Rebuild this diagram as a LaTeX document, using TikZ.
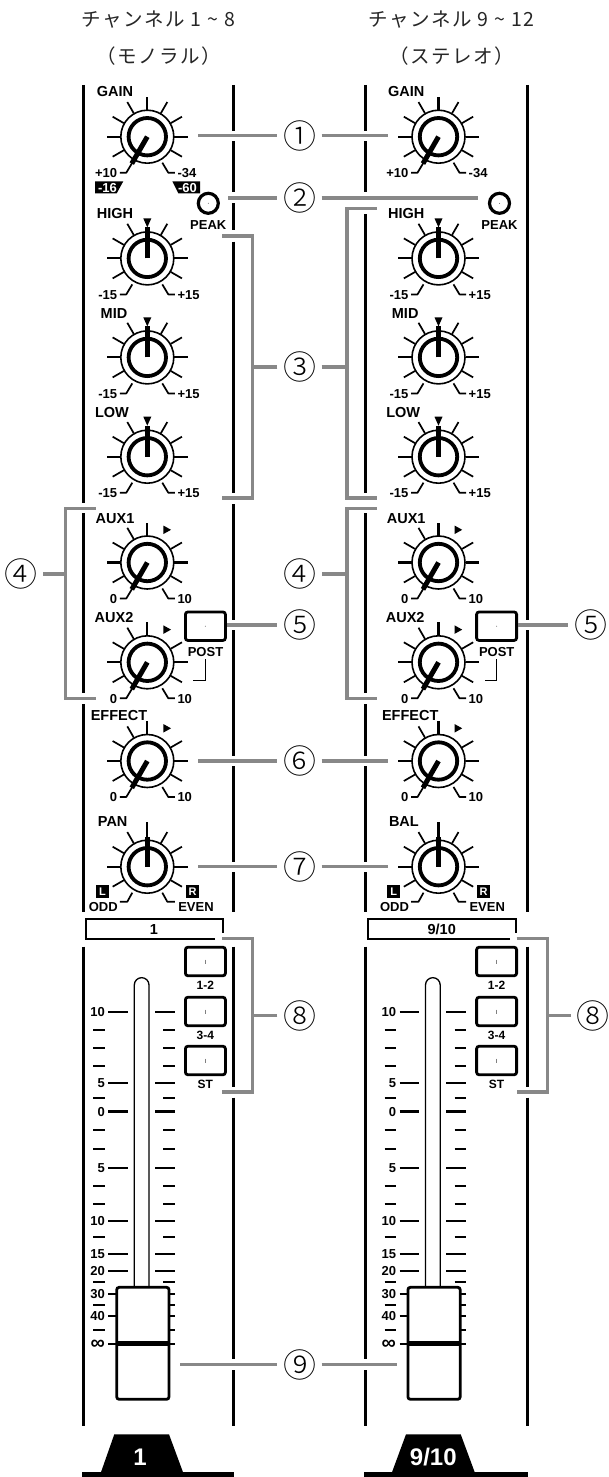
\documentclass[tikz,border=0pt]{standalone}
\usepackage{fontspec}
\setmainfont{Liberation Sans}
\newfontfamily\jp{Noto Sans CJK JP}[LetterSpace=8]
\newfontfamily\cn{Noto Sans CJK JP Light}
\definecolor{lead}{HTML}{888888}
\tikzset{
  rail/.style={line width=2.8pt,black},
  leader/.style={line width=3.4pt,lead},
  bracketln/.style={line width=3.4pt,lead,line join=miter},
  ray/.style={line width=1.7pt},
  mainray/.style={line width=2.1pt},
  hookln/.style={line width=1.7pt,line join=round},
  ptr/.style={line width=5pt},
  lab/.style={inner sep=0pt,font=\bfseries\fontsize{13}{13}\selectfont,text height=9.4pt,text depth=0pt},
  bigl/.style={inner sep=0pt,font=\bfseries\fontsize{14.5}{14.5}\selectfont,text height=10.4pt,text depth=0pt},
  smalll/.style={inner sep=0pt,font=\bfseries\fontsize{12}{12}\selectfont,text height=8.6pt,text depth=0pt},
  head/.style={inner sep=0pt,font=\jp\fontsize{19.5}{19.5}\selectfont,text=black!85},
  circn/.style={minimum size=44pt,inner sep=0pt,font=\cn\fontsize{33}{33}\selectfont},
  btn/.style={draw,line width=2.8pt,rounded corners=2.5pt,fill=white},
  btnmark/.style={line width=.9pt,black!50},
  ftick/.style={line width=1.7pt},
}
\def\raylist{30,150,210,240,300,330}
% knob: prefix, x, y, pointer angle, left text, right text
\newcommand{\knob}[6]{%
  \begin{scope}[shift={(#2,#3)}]
    \foreach \a in \raylist {\draw[ray] (\a:27) -- (\a:40);}
    \foreach \a in {0,180}{\draw[mainray] (\a:27) -- (\a:40.5);}
    \draw[hookln] (60:30) -- (21,36) -- (27.5,36);
    \draw[hookln] (120:30) -- (-21,36) -- (-27.5,36);
    \draw[line width=1.6pt,fill=white] (0,0) circle (26.5);
    \draw[line width=3.8pt,fill=white] (0,0) circle (18.7);
    \draw[ptr] (0,0) -- (#4:31);
    \node[lab,anchor=east] (#1-l) at (-30,36) {#5};
    \node[lab,anchor=west] (#1-r) at (30,36) {#6};
  \end{scope}}
\newcommand{\knobtick}[3]{\draw[mainray] (#1,#2-27) -- (#1,#2-#3);}
\newcommand{\knobeq}[2]{\fill (#1-4,#2-40) -- (#1+4,#2-40) -- (#1,#2-31) -- cycle;}
\newcommand{\knobaux}[2]{\knobtick{#1}{#2}{40}\fill (#1+16,#2-37) -- (#1+23.7,#2-32.7) -- (#1+16,#2-28.4) -- cycle;}
\newcommand{\fbtn}[3]{% prefix, y top, text
  \node[btn,minimum width=40pt,minimum height=28.5pt,inner sep=0pt] (#1) at (205.4,#2+15.3) {};
  \draw[btnmark] (205.4,#2+13.5) -- (205.4,#2+17.5);
  \node[smalll] (#1-t) at (205.4,#2+39) {#3};}
% channel strip drawn at left-channel coordinates
\newcommand{\chan}[2]{% prefix, pan name
  \knob{#1g}{147.3}{136.7}{120}{+10}{-34}\knobtick{147.3}{136.7}{40}
  \node[bigl] (#1g-t) at (115,91.7) {GAIN};
  \draw[line width=3.2pt,fill=white] (208.3,203.3) circle (10);
  \fill[black!60] (208.3,203.3) circle (.5);
  \node[lab] (#1peak) at (208.3,225) {PEAK};
  \knob{#1h}{147.3}{258.4}{270}{-15}{+15}\knobeq{147.3}{258.4}
  \node[bigl] (#1h-t) at (115,213.3) {HIGH};
  \knob{#1m}{147.3}{357.4}{270}{-15}{+15}\knobeq{147.3}{357.4}
  \node[bigl] (#1m-t) at (114,313) {MID};
  \knob{#1o}{147.3}{456.7}{270}{-15}{+15}\knobeq{147.3}{456.7}
  \node[bigl] (#1o-t) at (112,412) {LOW};
  \def\raylist{30,150,210,240,330}
  \knob{#1a}{147.3}{562.5}{120}{0}{10}\knobaux{147.3}{562.5}
  \node[bigl] (#1a-t) at (115,518.3) {AUX1};
  \knob{#1b}{147.3}{662.3}{120}{0}{10}\knobaux{147.3}{662.3}
  \node[bigl] (#1b-t) at (114,617.3) {AUX2};
  \node[btn,minimum width=40pt,minimum height=28.5pt,inner sep=0pt] (#1post) at (205.4,626.2) {};
  \fill[black!60] (205.4,626.2) circle (.5);
  \node[lab] (#1post-t) at (205.5,651.7) {POST};
  \coordinate (#1pa) at (205.7,659);
  \coordinate (#1pb) at (193.3,680);
  \draw[line width=1pt] (#1pa) |- (#1pb);
  \knob{#1e}{147.3}{761}{120}{0}{10}\knobaux{147.3}{761}
  \node[bigl] (#1e-t) at (119,715) {EFFECT};
  \def\raylist{30,150,210,240,300,330}
  \begin{scope}[shift={(147.3,866.7)}]
    \foreach \a in \raylist {\draw[ray] (\a:27) -- (\a:40);}
    \foreach \a in {0,180}{\draw[mainray] (\a:27) -- (\a:40.5);}
    \draw[hookln] (60:30) -- (20,35) -- (27.5,35);
    \draw[hookln] (120:30) -- (-20,35) -- (-27.5,35);
    \draw[mainray] (0,-27) -- (0,-44.3);
    \draw[line width=1.6pt,fill=white] (0,0) circle (26.5);
    \draw[line width=3.8pt,fill=white] (0,0) circle (18.7);
    \draw[ptr] (0,0) -- (0,-30);
  \end{scope}
  \node[bigl] (#1p-t) at (112.7,821.7) {#2};
  \node[fill=black,text=white,minimum size=13pt,inner sep=0pt,font=\bfseries\fontsize{11}{11}\selectfont] (#1ll) at (102.5,891.8) {L};
  \node[fill=black,text=white,minimum size=13pt,inner sep=0pt,font=\bfseries\fontsize{11}{11}\selectfont] (#1rr) at (192.5,891.8) {R};
  \node[lab] (#1odd) at (103.3,906.7) {ODD};
  \node[lab] (#1even) at (196,906.7) {EVEN};
  % fader
  \fbtn{#1b1}{946.2}{1-2}
  \fbtn{#1b2}{996.2}{3-4}
  \fbtn{#1b3}{1045.2}{ST}
  \foreach \yy in {1011.7,1082.7,1167.7,1220.7,1253.7,1270.7,1294,1315.7,1343.7}{
    \draw[ftick] (108.3,\yy) -- (127.7,\yy) (155,\yy) -- (175,\yy);
  }
  \foreach \yy in {1030,1047.7,1065.7,1097.7,1130,1149,1186,1204,1237,1282,1304.7,1330}{
    \draw[ftick] (93.3,\yy) -- (105,\yy) (163.3,\yy) -- (175,\yy);
  }
  \draw[line width=3pt] (108.3,1111.3) -- (127.7,1111.3) (155,1111.3) -- (175,1111.3);
  \node[lab,anchor=east] (#1f0) at (105,1111.3) {0};
  \node[lab,anchor=east] (#1f1) at (105,1011.7) {10};
  \node[lab,anchor=east] (#1f2) at (105,1082.7) {5};
  \node[lab,anchor=east] (#1f3) at (105,1167.7) {5};
  \node[lab,anchor=east] (#1f4) at (105,1220.7) {10};
  \node[lab,anchor=east] (#1f5) at (105,1253.7) {15};
  \node[lab,anchor=east] (#1f6) at (105,1270.7) {20};
  \node[lab,anchor=east] (#1f7) at (105,1294) {30};
  \node[lab,anchor=east] (#1f8) at (105,1315.7) {40};
  \node[lab,anchor=east,font=\bfseries\fontsize{20}{20}\selectfont] (#1f9) at (105,1344.7) {∞};
  \draw[line width=1.3pt] (134.3,1290) -- (134.3,985) arc[start angle=180,end angle=360,x radius=7.35,y radius=7.35] -- (149,1290);
  \draw[line width=2.8pt,fill=white,rounded corners=2.5pt] (116.7,1287.3) rectangle (169,1399.3);
  \draw[line width=4.5pt] (116.7,1343.7) -- (169,1343.7);
}
\begin{document}
\begin{tikzpicture}[x=1pt,y=-1pt]
\useasboundingbox[fill=white] (0,0) rectangle (608,1477);
% headers
\node[head] (h1) at (158.3,20) {チャンネル 1 \textasciitilde{} 8};
\node[head] (h2) at (159,56) {（モノラル）};
\node[head] (h3) at (451.7,20) {チャンネル 9 \textasciitilde{} 12};
\node[head] (h4) at (451.5,56) {（ステレオ）};
% rails
\draw[rail] (83.3,85)--(83.3,502.7) (83.3,513.3)--(83.3,693.3) (83.3,704)--(83.3,911.7) (83.3,946.7)--(83.3,1425.7);
\draw[rail] (233.3,85)--(233.3,131) (233.3,141.3)--(233.3,192.3) (233.3,203.3)--(233.3,230) (233.3,241.7)--(233.3,492.7) (233.3,504)--(233.3,620) (233.3,630)--(233.3,756) (233.3,766)--(233.3,861.7) (233.3,872)--(233.3,911.7) (233.3,946.7)--(233.3,1087) (233.3,1097.7)--(233.3,1359.3) (233.3,1370)--(233.3,1425.7);
\draw[rail] (365.5,85)--(365.5,131) (365.5,141.3)--(365.5,192.3) (365.5,214)--(365.5,492.7) (365.5,513)--(365.5,693.3) (365.5,704)--(365.5,756) (365.5,766)--(365.5,861.7) (365.5,872)--(365.5,911.7) (365.5,946.7)--(365.5,1359.3) (365.5,1370)--(365.5,1425.7);
\draw[rail] (527.3,85)--(527.3,620) (527.3,630)--(527.3,911.7) (527.3,946.7)--(527.3,1087) (527.3,1097.7)--(527.3,1425.7);
% channels
\chan{A}{PAN}
\begin{scope}[shift={(291.2,0)}]
\chan{B}{BAL}
\end{scope}
% gain range tags, left channel only
\fill (95,181.3) -- (123.3,181.3) -- (116.7,193.3) -- (95,193.3) -- cycle;
\fill (172.3,181.3) -- (200,181.3) -- (200,193.3) -- (178.3,193.3) -- cycle;
\node[lab,text=white] (t16) at (107.5,187.3) {-16};
\node[lab,text=white] (t60) at (187.5,187.3) {-60};
% label strips
\draw[line width=2pt] (215,939.3) -- (86,939.3) -- (86,919.3) -- (223,919.3) -- (223,932.7);
\node[bigl] (s1) at (154,929.5) {1};
\draw[line width=2pt] (510,939.3) -- (368,939.3) -- (368,919.3) -- (515.7,919.3) -- (515.7,932.7);
\node[bigl] (s2) at (441.7,929.5) {9/10};
% faceplates at the foot
\draw[line width=4.7pt] (82.3,1474.6) -- (234.3,1474.6);
\fill (114.3,1434.3) -- (169,1434.3) -- (183.3,1473) -- (100.7,1473) -- cycle;
\node[bigl,text=white,font=\bfseries\fontsize{24}{24}\selectfont,text height=17pt] (f1) at (140,1456.7) {1};
\draw[line width=4.7pt] (364.3,1474.6) -- (528.3,1474.6);
\fill (406,1434.3) -- (460.7,1434.3) -- (475,1473) -- (391.7,1473) -- cycle;
\node[bigl,text=white,font=\bfseries\fontsize{24}{24}\selectfont,text height=17pt] (f2) at (433.3,1456.7) {9/10};
% numbers
\node[circn] (c1) at (299.5,135.7) {①};
\node[circn] (c2) at (299.5,198) {②};
\node[circn] (c3) at (299.5,367) {③};
\node[circn] (c4) at (21,574) {④};
\node[circn] (c4b) at (300,574) {④};
\node[circn] (c5) at (299.5,625) {⑤};
\node[circn] (c5b) at (590.5,625) {⑤};
\node[circn] (c6) at (299.5,761) {⑥};
\node[circn] (c7) at (299.5,866.7) {⑦};
\node[circn] (c8) at (299.5,1015.7) {⑧};
\node[circn] (c8b) at (593,1015.7) {⑧};
\node[circn] (c9) at (299.5,1364.7) {⑨};
% leader ends
\coordinate (e1a) at (198,135.7);\coordinate (e1b) at (387.5,135.7);
\coordinate (e2a) at (228,198);\coordinate (e2b) at (478,198);
\coordinate (e6a) at (198,761);\coordinate (e6b) at (387.5,761);
\coordinate (e7a) at (198,866.7);\coordinate (e7b) at (387.5,866.7);
\coordinate (e9a) at (180,1364.7);\coordinate (e9b) at (396.7,1364.7);
\draw[leader] (e1a) -- (c1.west) (c1.east) -- (e1b);
\draw[leader] (e2a) -- (c2.west) (c2.east) -- (e2b);
\draw[leader] (e6a) -- (c6.west) (c6.east) -- (e6b);
\draw[leader] (e7a) -- (c7.west) (c7.east) -- (e7b);
\draw[leader] (e9a) -- (c9.west) (c9.east) -- (e9b);
% leader 5
\draw[leader] (c5.west -| Apost.east) -- (c5.west);
\draw[leader] (c5b.west -| Bpost.east) -- (c5b.west);
% bracket 3
\coordinate (b3a) at (222,236);\coordinate (b3b) at (252.7,236);\coordinate (b3c) at (252.7,498);\coordinate (b3d) at (222,498);
\coordinate (b3e) at (377,208.7);\coordinate (b3f) at (347,208.7);\coordinate (b3g) at (347,498);\coordinate (b3h) at (377,498);
\draw[bracketln] (b3a) -- (b3b) -- (b3c) -- (b3d);
\draw[bracketln] (b3e) -- (b3f) -- (b3g) -- (b3h);
\draw[leader] (c3.west) -- (c3.west -| b3b);
\draw[leader] (c3.east) -- (c3.east -| b3f);
% bracket 4
\coordinate (b4a) at (95.7,508.3);\coordinate (b4b) at (65.7,508.3);\coordinate (b4c) at (65.7,698.3);\coordinate (b4d) at (95.7,698.3);
\coordinate (b4e) at (377,508.3);\coordinate (b4f) at (347,508.3);\coordinate (b4g) at (347,698.3);\coordinate (b4h) at (377,698.3);
\draw[bracketln] (b4a) -- (b4b) -- (b4c) -- (b4d);
\draw[bracketln] (b4e) -- (b4f) -- (b4g) -- (b4h);
\draw[leader] (c4.east) -- (c4.east -| b4b);
\draw[leader] (c4b.east) -- (c4b.east -| b4f);
% bracket 8
\coordinate (b8a) at (222.3,938.3);\coordinate (b8b) at (252.7,938.3);\coordinate (b8c) at (252.7,1092);\coordinate (b8d) at (222.3,1092);
\coordinate (b8e) at (516.7,938.3);\coordinate (b8f) at (547.3,938.3);\coordinate (b8g) at (547.3,1092);\coordinate (b8h) at (516.7,1092);
\draw[bracketln] (b8a) -- (b8b) -- (b8c) -- (b8d);
\draw[bracketln] (b8e) -- (b8f) -- (b8g) -- (b8h);
\draw[leader] (c8.west) -- (c8.west -| b8b);
\draw[leader] (c8b.west) -- (c8b.west -| b8f);
\end{tikzpicture}
\end{document}
